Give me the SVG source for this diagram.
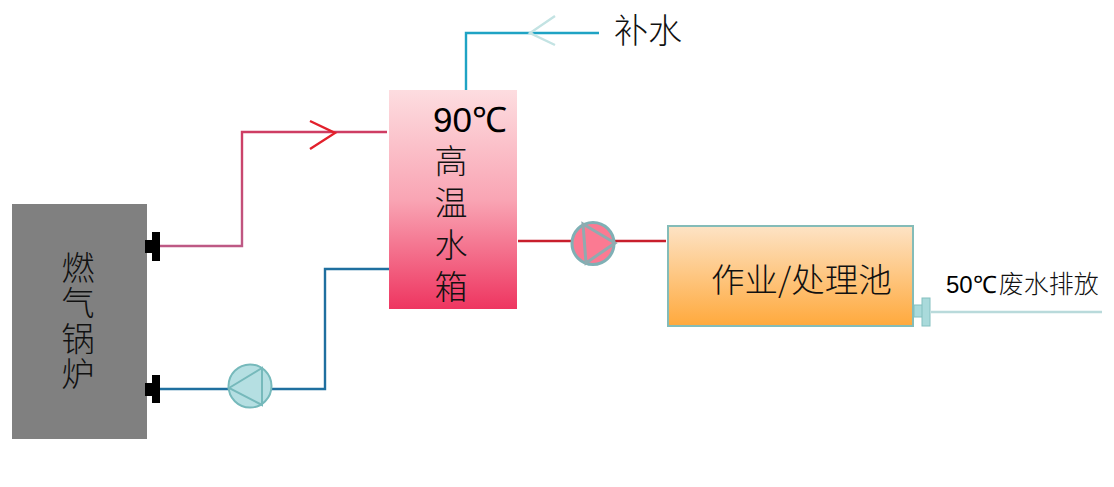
<svg xmlns="http://www.w3.org/2000/svg" width="1114" height="487" viewBox="0 0 1114 487">
<style>
.cjk{font-family:"Noto Sans CJK SC","Liberation Sans",sans-serif;font-weight:300;fill:#111}
.big{font-size:33px;writing-mode:vertical-rl}
.lat{font-family:"Liberation Sans",Arial,sans-serif;fill:#000}
.pipe{fill:none;stroke-width:2.4}
.flange{fill:#000}
.pump{stroke:#76b9bb;stroke-width:2}
</style>
<defs>
<linearGradient id="tank" x1="0" y1="0" x2="0" y2="1"><stop offset="0" stop-color="#fddde0"/><stop offset=".5" stop-color="#f9a5b4"/><stop offset="1" stop-color="#ee3560"/></linearGradient>
<linearGradient id="pool" x1="0" y1="0" x2="0" y2="1"><stop offset="0" stop-color="#fde3c5"/><stop offset="1" stop-color="#ffa93c"/></linearGradient>
<linearGradient id="hotpipe" gradientUnits="userSpaceOnUse" x1="0" y1="250" x2="0" y2="128"><stop offset="0" stop-color="#bd5a86"/><stop offset="1" stop-color="#cf3c62"/></linearGradient>
</defs>
<g id="connectors">
<path class="pipe" d="M160 246H242V132H387" stroke="url(#hotpipe)"/>
<path class="pipe" d="M310 121L335 133L310 149" stroke="#e2202c"/>
<path class="pipe" d="M160 389H325V269H389" stroke="#1f6f9f"/>
<path class="pipe" d="M466 91V33H599" stroke="#1fa3c4"/>
<path class="pipe" d="M555 16L530 33L555 45" stroke="#c3e3e3"/>
<path class="pipe" d="M518 241H666" stroke="#c81f2c"/>
<path class="pipe" d="M931 312H1102" stroke="#b9dadb"/>
</g>
<g id="boiler">
<rect x="12" y="204" width="135" height="235" fill="#808080"/>
<text class="cjk big" x="78" y="251" letter-spacing="2.300">燃气锅炉</text>
<path class="flange" d="M145 240H152V232H160V261H152V253H145Z"/>
<path class="flange" d="M145 383H152V375H160V403H152V396H145Z"/>
</g>
<g id="pump-return">
<circle class="pump" cx="250" cy="386" r="21.5" fill="#b5dfe2"/>
<path class="pump" d="M229 388L262 368V405Z" fill="none"/>
</g>
<g id="tank-node">
<rect x="389" y="90" width="128" height="219" fill="url(#tank)"/>
<text class="lat" x="433" y="132" font-size="35">90℃</text>
<text class="cjk big" x="451" y="144" letter-spacing="9">高温水箱</text>
</g>
<g id="pump-hot">
<circle cx="593" cy="243.500" r="21" fill="#fb7a92" stroke="#7fb0b5" stroke-width="3"/>
<path d="M583 224L615 243L586 263Z" fill="none" stroke="#8fabb0" stroke-width="3"/>
</g>
<g id="pool-node">
<rect x="668" y="226" width="245" height="100" fill="url(#pool)" stroke="#84bcb8" stroke-width="2"/>
<text class="cjk" x="711" y="292" font-size="33.500">作业/处理池</text>
<rect x="914" y="305" width="9" height="12" fill="#a9dadb" stroke="#84c0c0"/>
<rect x="922" y="298" width="8" height="28" fill="#a9dadb" stroke="#84c0c0"/>
</g>
<g id="label-makeup"><text class="cjk" x="614" y="43" font-size="34">补水</text></g>
<g id="label-discharge"><text x="946" y="293" font-size="25"><tspan class="lat" font-size="24">50℃</tspan><tspan class="cjk" dx="2">废水排放</tspan></text></g>
</svg>
